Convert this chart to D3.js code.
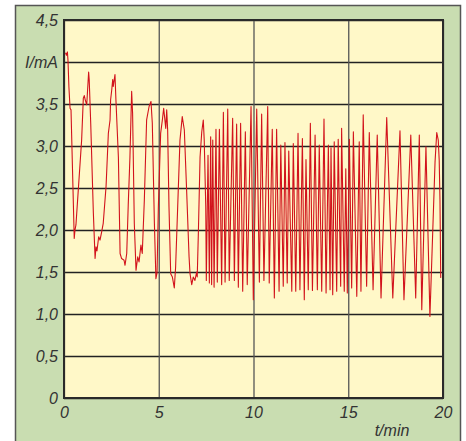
<!DOCTYPE html>
<html>
<head>
<meta charset="utf-8">
<script src="https://cdn.jsdelivr.net/npm/d3@7"></script>
<style>
  body { margin: 0; background: #fff; }
  svg text { font-family: "Liberation Sans", Arial, sans-serif; font-style: italic; fill: #333; }
</style>
</head>
<body>
<svg id="chart"></svg>
<script>
// time in minutes
const tMin = [
  0.08, 0.13, 0.18, 0.21, 0.26, 0.32, 0.37, 0.54, 0.58, 0.63,
  0.93, 1.02, 1.07, 1.12, 1.20, 1.23, 1.30, 1.33, 1.41, 1.55,
  1.64, 1.69, 1.74, 1.83, 1.90, 1.99, 2.07, 2.22, 2.34, 2.43,
  2.46, 2.52, 2.57, 2.60, 2.69, 2.74, 2.87, 2.96, 3.04, 3.17,
  3.22, 3.31, 3.39, 3.48, 3.57, 3.62, 3.71, 3.80, 3.89, 3.96,
  4.06, 4.13, 4.24, 4.36, 4.49, 4.59, 4.66, 4.77, 4.85, 4.91,
  4.98, 5.10, 5.19, 5.26, 5.37, 5.42, 5.47, 5.54, 5.63, 5.72,
  5.82, 5.89, 6.00, 6.12, 6.24, 6.35, 6.47, 6.60, 6.65, 6.74,
  6.82, 6.91, 7.00, 7.03, 7.09, 7.18, 7.27, 7.35, 7.40, 7.48,
  7.51, 7.60, 7.67, 7.74, 7.79, 7.85, 7.92, 8.02, 8.09, 8.20,
  8.32, 8.41, 8.50, 8.64, 8.72, 8.90, 8.99, 9.11, 9.20, 9.32,
  9.43, 9.57, 9.67, 9.87, 9.99, 10.17, 10.31, 10.43, 10.55, 10.75,
  10.83, 10.99, 11.10, 11.22, 11.35, 11.44, 11.57, 11.66, 11.78, 11.86,
  12.02, 12.10, 12.23, 12.35, 12.45, 12.58, 12.68, 12.77, 12.89, 13.00,
  13.11, 13.25, 13.37, 13.47, 13.60, 13.72, 13.83, 13.95, 14.04, 14.09,
  14.18, 14.26, 14.39, 14.47, 14.60, 14.65, 14.79, 14.87, 14.95, 15.06,
  15.18, 15.27, 15.45, 15.58, 15.67, 15.79, 15.97, 16.11, 16.31, 16.53,
  16.73, 17.03, 17.35, 17.73, 17.94, 18.30, 18.56, 18.75, 18.88, 19.10,
  19.31, 19.58, 19.67, 19.75, 19.80, 19.84, 19.88
]

// current in mA
const currentMA = [
  4.11, 4.08, 4.12, 4.02, 3.70, 3.45, 3.43, 1.90, 2.00, 2.06,
  3.07, 3.57, 3.60, 3.55, 3.49, 3.61, 3.88, 3.79, 3.27, 2.20,
  1.66, 1.80, 1.75, 1.92, 1.88, 1.98, 2.08, 2.52, 3.15, 3.31,
  3.55, 3.67, 3.79, 3.71, 3.85, 3.55, 2.87, 1.72, 1.66, 1.64,
  1.58, 1.72, 2.30, 2.87, 3.65, 3.39, 2.08, 1.52, 1.68, 1.62,
  1.82, 1.72, 2.36, 3.31, 3.47, 3.53, 3.27, 2.08, 1.42, 1.49,
  2.28, 3.15, 3.31, 3.45, 3.21, 3.43, 3.19, 2.28, 1.48, 1.44,
  1.31, 1.56, 2.28, 3.07, 3.35, 3.19, 2.48, 1.68, 1.48, 1.35,
  1.44, 1.40, 1.50, 1.44, 1.96, 2.87, 3.17, 3.31, 3.07, 2.28,
  1.40, 2.89, 1.37, 3.11, 1.35, 3.07, 1.32, 3.20, 1.38, 3.20,
  1.35, 3.40, 1.38, 3.44, 1.40, 3.33, 1.40, 3.26, 1.32, 3.27,
  1.27, 3.17, 1.35, 3.47, 1.17, 3.44, 1.38, 3.38, 1.40, 3.47,
  1.37, 3.20, 1.19, 3.20, 1.27, 3.01, 1.33, 3.04, 1.37, 2.94,
  1.27, 3.03, 1.27, 3.15, 1.29, 3.09, 1.17, 2.84, 1.29, 3.27,
  1.28, 3.13, 1.29, 3.01, 1.27, 3.32, 1.25, 3.01, 1.29, 2.98,
  1.23, 3.05, 1.27, 3.08, 1.33, 3.21, 1.27, 2.73, 1.25, 3.08,
  1.31, 3.17, 1.21, 3.05, 1.27, 3.37, 1.33, 3.16, 1.29, 3.13,
  1.19, 3.34, 1.19, 3.18, 1.17, 3.13, 1.19, 3.13, 1.05, 2.99,
  0.97, 2.81, 3.16, 3.07, 2.83, 2.36, 1.43
]

const xTicks = [0, 5, 10, 15, 20]
const xTickLabels = ["0", "5", "10", "15", "20"]
const yTicks = [0, 0.5, 1, 1.5, 2, 2.5, 3, 3.5, 4, 4.5]
const yTickLabels = ["0", "0,5", "1,0", "1,5", "2,0", "2,5", "3,0", "3,5", "I/mA", "4,5"]

const width = 466
const height = 441
const plot = {left: 64, top: 20, right: 443, bottom: 398}

const svg = d3.select("#chart")
  .attr("width", width)
  .attr("height", height)

// green panel
svg.append("rect")
  .attr("x", 15.5)
  .attr("y", 5.5)
  .attr("width", 445)
  .attr("height", 450)
  .attr("fill", "#c9ddb1")
  .attr("stroke", "#555")
  .attr("stroke-width", 1.5)

svg.append("rect")
  .attr("x", plot.left)
  .attr("y", plot.top)
  .attr("width", plot.right - plot.left)
  .attr("height", plot.bottom - plot.top)
  .attr("fill", "#fff8c8")

const x = d3.scaleLinear().domain([0, 20]).range([plot.left, plot.right])
const y = d3.scaleLinear().domain([0, 4.5]).range([plot.bottom, plot.top])

const yAxis = svg.append("g")
  .attr("transform", `translate(${plot.left},0)`)
  .call(d3.axisLeft(y)
    .tickValues(yTicks)
    .tickSize(-(plot.right - plot.left))
    .tickPadding(6)
    .tickFormat((d, i) => yTickLabels[i]))
yAxis.select(".domain").remove()
yAxis.selectAll("line").attr("stroke", "#222").attr("stroke-width", 1.3)
yAxis.selectAll("text").attr("font-size", 16).style("font-family", null)

const xAxis = svg.append("g")
  .attr("transform", `translate(0,${plot.bottom})`)
  .call(d3.axisBottom(x)
    .tickValues(xTicks)
    .tickSize(-(plot.bottom - plot.top))
    .tickPadding(9)
    .tickFormat((d, i) => xTickLabels[i]))
xAxis.select(".domain").remove()
xAxis.selectAll("line").attr("stroke", "#555").attr("stroke-width", 1.3)
xAxis.selectAll("text").attr("font-size", 16).style("font-family", null)

svg.append("text")
  .attr("x", 392)
  .attr("y", 436)
  .attr("text-anchor", "middle")
  .attr("font-size", 16)
  .text("t/min")

const line = d3.line()
  .x((d, i) => x(tMin[i]))
  .y(d => y(d))

svg.append("path")
  .datum(currentMA)
  .attr("d", line)
  .attr("fill", "none")
  .attr("stroke", "#d2131c")
  .attr("stroke-width", 1.1)
  .attr("stroke-linejoin", "round")

// plot frame
svg.append("rect")
  .attr("x", plot.left)
  .attr("y", plot.top)
  .attr("width", plot.right - plot.left)
  .attr("height", plot.bottom - plot.top)
  .attr("fill", "none")
  .attr("stroke", "#2a2a2a")
  .attr("stroke-width", 2)
</script>
</body>
</html>
